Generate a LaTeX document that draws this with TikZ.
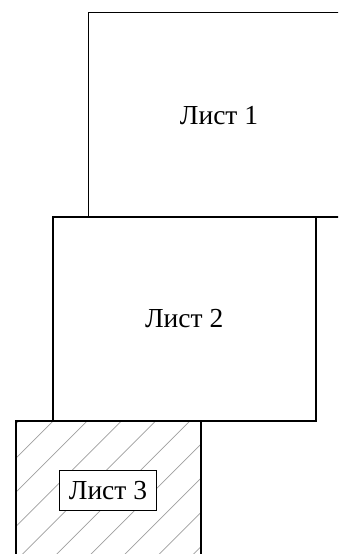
\documentclass[tikz,border=0pt]{standalone}
\usepackage{fontspec}
\setmainfont{Liberation Serif}
\begin{document}
\begin{tikzpicture}[x=1pt,y=-1pt,
  sheet/.style={draw=black, line width=1.6pt, fill=white, inner sep=0pt, outer sep=0pt, anchor=north west},
  lbl/.style={font=\fontsize{27.5}{32}\selectfont},
  hatchline/.style={draw=gray!75, line width=0.7pt},
  tag/.style={draw=black, line width=1.2pt, fill=white, inner sep=0pt, minimum width=97pt, minimum height=40pt}]
\useasboundingbox (0,0) rectangle (338,554);
\clip (0,0) rectangle (338,554);
% sheet 1
\node[sheet, line width=1.3pt, minimum width=261pt, minimum height=204.5pt] (s1) at (88.5,12.5) {};
\node[lbl] (t1) at (219,116) {Лист 1};
% sheet 2
\node[sheet, minimum width=263pt, minimum height=204pt] (s2) at (52.7,216.7) {};
\node[lbl] (t2) at (184.2,319) {Лист 2};
% sheet 3 with hatching
\node[sheet, draw=none, minimum width=184.7pt, minimum height=200pt] (s3) at (16,421) {};
\begin{scope}
  \clip (s3.north west) rectangle (s3.south east);
  \foreach \k in {-1,...,10} {
    \pgfmathsetmacro{\hc}{474+34.2*\k}
    \draw[hatchline] (\hc-400,400) -- (\hc-650,650);
  }
\end{scope}
\draw[black, line width=1.6pt] (s3.north west) rectangle (s3.south east);
\node[tag, lbl] (t3) at (108,490.7) {Лист 3};
\end{tikzpicture}
\end{document}
